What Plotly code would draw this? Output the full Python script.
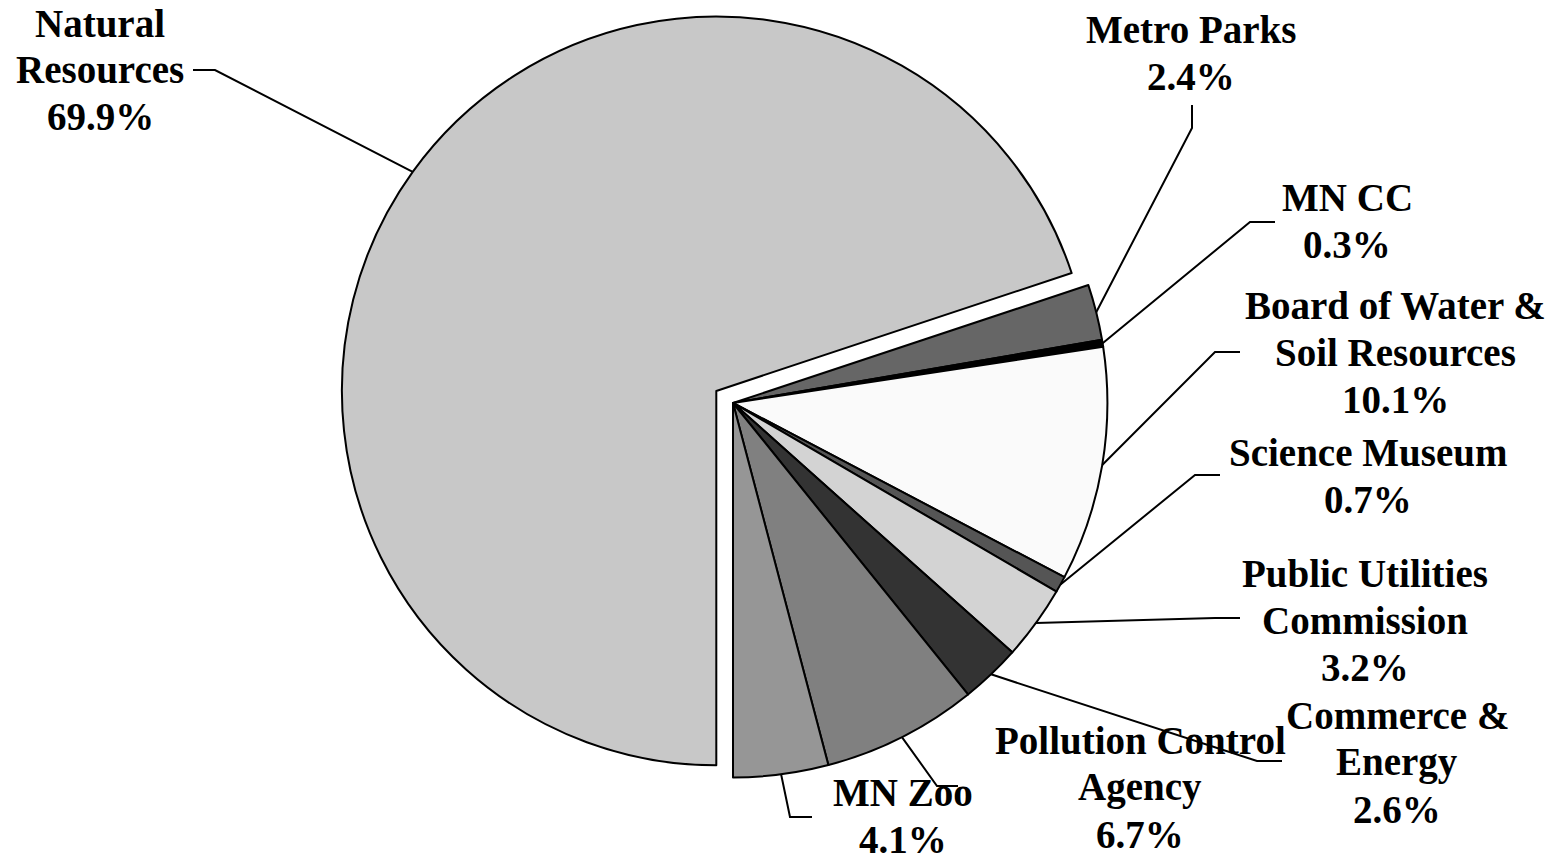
import math
import plotly.graph_objects as go

# ---- data ----
agencies = ["Natural Resources", "Metro Parks", "MN CC", "Board of Water & Soil Resources",
            "Science Museum", "Public Utilities Commission", "Commerce & Energy",
            "Pollution Control Agency", "MN Zoo"]
shares = [69.9, 2.4, 0.3, 10.1, 0.7, 3.2, 2.6, 6.7, 4.1]
name_lines = [["Natural", "Resources"], ["Metro Parks"], ["MN CC"],
              ["Board of Water &", "Soil Resources"], ["Science Museum"],
              ["Public Utilities", "Commission"], ["Commerce &", "Energy"],
              ["Pollution Control", "Agency"], ["MN Zoo"]]
colors = ["#c8c8c8", "#666666", "#000000", "#fafafa", "#555555",
          "#d3d3d3", "#333333", "#808080", "#969696"]
pulls = [0.055, 0, 0, 0, 0, 0, 0, 0, 0]

# ---- layout (pixels of the final picture) ----
PAGE_OFF = 8                      # default body margin of the html page
W, H = 1556 - PAGE_OFF, 856 - PAGE_OFF
PIE_CX, PIE_CY, PIE_HALF = 733, 403, 395   # picture px: centre and half box height
ROTATION = 180
LINE_STEP = 47
FONT_SIZE = 39

# label block centres and leader elbow points (picture px)
label_pos = [(100, 70), (1191, 53), (1347, 221), (1395, 352), (1368, 476),
             (1365, 620), (1397, 762), (1140, 787), (903, 816)]
leader_start = [(193, 70), (1192, 105), (1275, 222), (1240, 352), (1220, 475),
                (1240, 618), (1282, 761), (958, 786), (812, 817)]
leader_elbow = [(215, 70), (1192, 128), (1250, 222), (1215, 352), (1195, 475),
                (1215, 618), (1257, 761), (937, 786), (790, 817)]

cx_f, cy_f = PIE_CX - PAGE_OFF, PIE_CY - PAGE_OFF
DOM_X = [0.0, 2 * cx_f / W]
DOM_Y = [1 - 2 * PIE_HALF / H, 1.0]

# pie geometry, same rule plotly uses
box_w = W * (DOM_X[1] - DOM_X[0])
box_h = H * (DOM_Y[1] - DOM_Y[0])
R = min(box_w, box_h) / 2 / (1 + max(pulls))
CX = W * (DOM_X[0] + DOM_X[1]) / 2 + PAGE_OFF
CY = H * (1 - DOM_Y[0]) - box_h / 2 + PAGE_OFF


def px(x, y):
    return (x - PAGE_OFF) / W, 1 - (y - PAGE_OFF) / H


fig = go.Figure(go.Pie(
    labels=agencies, values=shares, sort=False, direction="clockwise",
    rotation=ROTATION, pull=pulls, textinfo="none", showlegend=False,
    marker=dict(colors=colors, line=dict(color="black", width=2)),
    domain=dict(x=DOM_X, y=DOM_Y),
))

total = sum(shares)
cum = 0.0
shapes = []
annotations = []
for i, v in enumerate(shares):
    mid = ROTATION + (cum + v / 2) / total * 360
    cum += v
    th = math.radians(mid)
    off = pulls[i] * R
    ex = CX + (R + off) * math.sin(th)
    ey = CY - (R + off) * math.cos(th)
    p1, p2, p3 = px(*leader_start[i]), px(*leader_elbow[i]), px(ex, ey)
    shapes.append(dict(type="path", xref="paper", yref="paper",
                       path=f"M {p1[0]} {p1[1]} L {p2[0]} {p2[1]} L {p3[0]} {p3[1]}",
                       line=dict(color="black", width=2)))
    lines = name_lines[i] + [f"{v:.1f}%"]
    bx, by = label_pos[i]
    n = len(lines)
    for k, t in enumerate(lines):
        lx, ly = px(bx, by + (k - (n - 1) / 2) * LINE_STEP)
        annotations.append(dict(text=t, x=lx, y=ly, xref="paper", yref="paper",
                                xanchor="center", yanchor="middle", showarrow=False,
                                font=dict(family="Liberation Serif", size=FONT_SIZE,
                                          color="black", weight="bold")))

fig.update_layout(
    width=W, height=H, margin=dict(l=0, r=0, t=0, b=0),
    paper_bgcolor="white", plot_bgcolor="white",
    shapes=shapes, annotations=annotations,
)
fig.write_html("out.html")
